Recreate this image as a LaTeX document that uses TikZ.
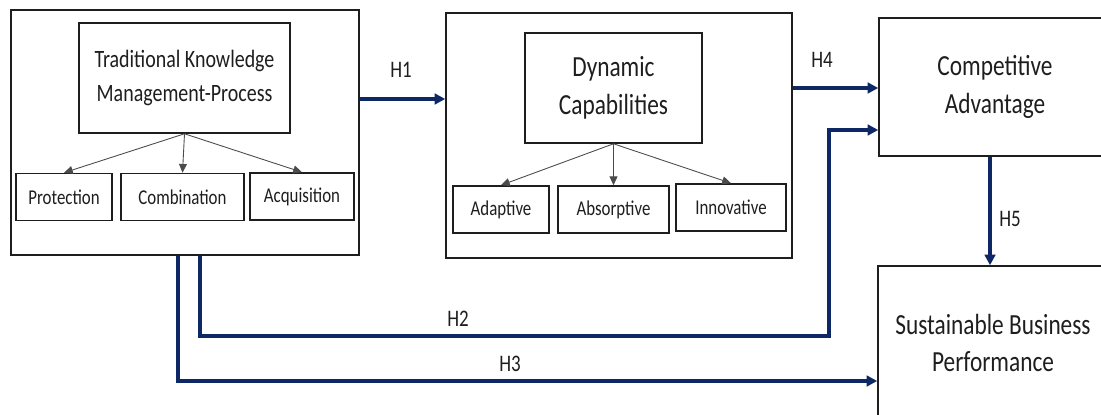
\documentclass[tikz,border=0pt]{standalone}
\usepackage{fontspec}
\setmainfont{Carlito}[FakeStretch=0.8]
\usetikzlibrary{arrows.meta}
\definecolor{navy}{RGB}{14,40,102}
\definecolor{ink}{RGB}{30,30,30}
\begin{document}
\begin{tikzpicture}[
x=0.02cm, y=-0.02cm,
every node/.style={draw=ink, line width=0.9pt, text=ink, align=center, inner sep=0pt},
mainbox/.style={font=\fontsize{16.6}{21.5}\selectfont},
subbox/.style={font=\fontsize{12}{14}\selectfont, minimum height=0.94cm},
lbl/.style={draw=none, font=\fontsize{13.5}{15}\selectfont},
sub/.style={draw=ink!80, line width=0.5pt, -{Triangle[length=5pt,width=4.5pt]}},
hyp/.style={draw=navy, line width=2pt, -{Triangle[length=6pt,width=6pt]}}
]
\useasboundingbox (0,0) rectangle (1101,415);
% knowledge management block
\node[minimum width=6.96cm, minimum height=4.9cm] (tkmbox) at (185,132.5) {};
\node[minimum width=4.22cm, minimum height=2.2cm, font=\fontsize{14.2}{19.3}\selectfont] (tkm) at (184.5,78) {Traditional Knowledge\\Management-Process};
\node[subbox, minimum width=1.92cm] (prot) at (64,197) {Protection};
\node[subbox, minimum width=2.46cm] (comb) at (182.5,197) {Combination};
\node[subbox, minimum width=2.08cm] (acq) at (302,196.5) {Acquisition};
\draw[sub] (tkm.south) -- (prot.north);
\draw[sub] (tkm.south) -- (comb.north);
\draw[sub] (tkm.south) -- (acq.north);
% dynamic capabilities block
\node[minimum width=6.92cm, minimum height=4.9cm] (dcbox) at (619,135.5) {};
\node[mainbox, minimum width=3.54cm, minimum height=2.2cm] (dc) at (613.5,88) {Dynamic\\Capabilities};
\node[subbox, minimum width=1.92cm] (adap) at (501,209.5) {Adaptive};
\node[subbox, minimum width=2.22cm] (absorp) at (613.5,209.5) {Absorptive};
\node[subbox, minimum width=2.2cm] (innov) at (731,207.5) {Innovative};
\draw[sub] (dc.south) -- (adap.north);
\draw[sub] (dc.south) -- (absorp.north);
\draw[sub] (dc.south) -- (innov.north);
% outcomes
\node[mainbox, minimum width=4.64cm, minimum height=2.76cm] (ca) at (995,87) {Competitive\\Advantage};
\node[mainbox, minimum width=4.6cm, minimum height=3.08cm] (sbp) at (993,343) {Sustainable Business\\Performance};
% hypotheses
\draw[hyp] (tkmbox.east |- 0,99) -- (dcbox.west |- 0,99);
\draw[hyp] (dcbox.east |- 0,88) -- (ca.west |- 0,88);
\draw[hyp] (ca.south -| 990,0) -- (sbp.north -| 990,0);
\draw[hyp] (tkmbox.south -| 200,0) |- (829,336) |- (ca.west |- 0,130);
\draw[hyp] (tkmbox.south -| 178,0) |- (sbp.west |- 0,381);
\node[lbl] (h1) at (401,70) {H1};
\node[lbl] (h4) at (822,60) {H4};
\node[lbl] (h5) at (1010,219) {H5};
\node[lbl] (h2) at (458,319) {H2};
\node[lbl] (h3) at (510,364) {H3};
\end{tikzpicture}
\end{document}
